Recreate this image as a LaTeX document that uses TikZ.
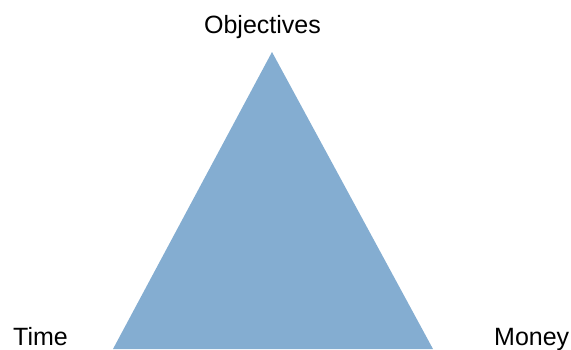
\documentclass[tikz,border=0pt]{standalone}
\usepackage{fontspec}
\setmainfont{Liberation Sans}
\definecolor{tri}{RGB}{132,173,209}
\begin{document}
\begin{tikzpicture}[x=1pt,y=-1pt,
  lbl/.style={inner sep=0pt,font=\fontsize{25}{30}\selectfont}]
\useasboundingbox (0,0) rectangle (571,349);
\clip (0,0) rectangle (571,349);
\coordinate (apex) at (272,52);
\coordinate (bl) at (113,349);
\coordinate (br) at (433,349);
\fill[tri] (apex) -- (bl) -- (br) -- cycle;
\node[lbl,anchor=base] (obj) at (262.5,33) {Objectives};
\node[lbl,anchor=base west] (time) at (13,345) {Time};
\node[lbl,anchor=base west] (money) at (494,345) {Money};
\end{tikzpicture}
\end{document}
